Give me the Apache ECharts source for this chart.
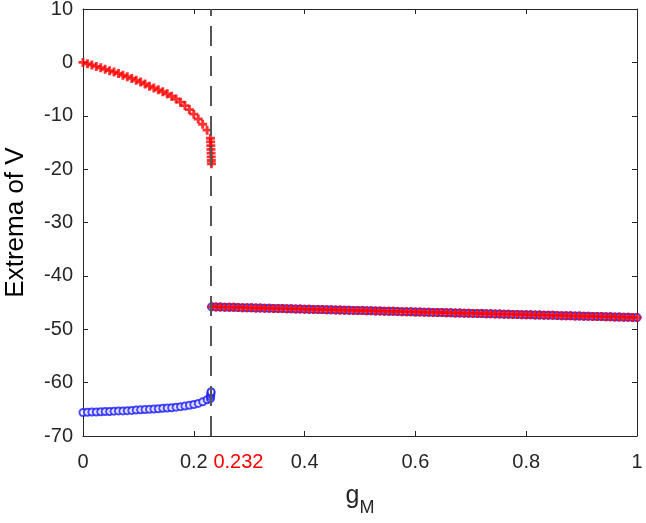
<!DOCTYPE html>
<html>
<head>
<meta charset="utf-8">
<script src="https://cdn.jsdelivr.net/npm/echarts@6/dist/echarts.min.js"></script>
<style>
  html, body { margin: 0; padding: 0; background: #fff; }
  #chart { width: 646px; height: 523px; }
</style>
</head>
<body>
<div id="chart"></div>
<script>
// g_M values and extrema of V
const bifurcation = 0.232

// maxima (red +) before the bifurcation
const maxLeft = [
  [0.000, 0.0], [0.008, -0.25], [0.016, -0.5], [0.024, -0.75], [0.032, -1.0],
  [0.040, -1.3], [0.048, -1.55], [0.056, -1.8], [0.064, -2.1], [0.072, -2.4],
  [0.080, -2.7], [0.088, -3.0], [0.096, -3.35], [0.104, -3.7], [0.112, -4.05],
  [0.120, -4.45], [0.128, -4.8], [0.136, -5.15], [0.144, -5.5], [0.152, -5.9],
  [0.160, -6.35], [0.168, -6.85], [0.176, -7.45], [0.184, -8.1], [0.192, -8.85],
  [0.200, -9.7], [0.208, -10.6], [0.216, -11.6], [0.224, -12.7],
  [0.2300, -14.2], [0.2304, -14.9], [0.2307, -15.6], [0.2310, -16.3],
  [0.2312, -17.0], [0.2314, -17.7], [0.2316, -18.4], [0.2318, -19.0]
]

// minima (blue o) before the bifurcation
const minLeft = [
  [0.000, -65.6], [0.008, -65.55], [0.016, -65.5], [0.024, -65.5], [0.032, -65.45],
  [0.040, -65.4], [0.048, -65.4], [0.056, -65.35], [0.064, -65.3], [0.072, -65.3],
  [0.080, -65.25], [0.088, -65.2], [0.096, -65.15], [0.104, -65.1], [0.112, -65.05],
  [0.120, -65.0], [0.128, -64.95], [0.136, -64.9], [0.144, -64.8], [0.152, -64.75],
  [0.160, -64.7], [0.168, -64.6], [0.176, -64.5], [0.184, -64.4], [0.192, -64.25],
  [0.200, -64.1], [0.208, -63.9], [0.216, -63.6], [0.224, -63.2],
  [0.2300, -63.0], [0.2304, -62.6], [0.2307, -62.2], [0.2310, -61.9], [0.2312, -61.7]
]

// after the bifurcation maxima and minima coincide
const gmRight = [
  0.232, 0.240, 0.248, 0.256, 0.264, 0.272, 0.280, 0.288, 0.296, 0.304,
  0.312, 0.320, 0.328, 0.336, 0.344, 0.352, 0.360, 0.368, 0.376, 0.384,
  0.392, 0.400, 0.408, 0.416, 0.424, 0.432, 0.440, 0.448, 0.456, 0.464,
  0.472, 0.480, 0.488, 0.496, 0.504, 0.512, 0.520, 0.528, 0.536, 0.544,
  0.552, 0.560, 0.568, 0.576, 0.584, 0.592, 0.600, 0.608, 0.616, 0.624,
  0.632, 0.640, 0.648, 0.656, 0.664, 0.672, 0.680, 0.688, 0.696, 0.704,
  0.712, 0.720, 0.728, 0.736, 0.744, 0.752, 0.760, 0.768, 0.776, 0.784,
  0.792, 0.800, 0.808, 0.816, 0.824, 0.832, 0.840, 0.848, 0.856, 0.864,
  0.872, 0.880, 0.888, 0.896, 0.904, 0.912, 0.920, 0.928, 0.936, 0.944,
  0.952, 0.960, 0.968, 0.976, 0.984, 0.992, 1.000
]
const vRight = [
  -45.80, -45.82, -45.84, -45.86, -45.88, -45.90, -45.92, -45.95, -45.97, -45.99,
  -46.01, -46.03, -46.05, -46.07, -46.09, -46.11, -46.13, -46.15, -46.17, -46.20,
  -46.22, -46.24, -46.26, -46.28, -46.30, -46.32, -46.34, -46.36, -46.38, -46.40,
  -46.42, -46.45, -46.47, -46.49, -46.51, -46.53, -46.55, -46.57, -46.59, -46.61,
  -46.63, -46.65, -46.67, -46.70, -46.72, -46.74, -46.76, -46.78, -46.80, -46.82,
  -46.84, -46.86, -46.88, -46.90, -46.92, -46.95, -46.97, -46.99, -47.01, -47.03,
  -47.05, -47.07, -47.09, -47.11, -47.13, -47.15, -47.17, -47.20, -47.22, -47.24,
  -47.26, -47.28, -47.30, -47.32, -47.34, -47.36, -47.38, -47.40, -47.42, -47.45,
  -47.47, -47.49, -47.51, -47.53, -47.55, -47.57, -47.59, -47.61, -47.63, -47.65,
  -47.67, -47.70, -47.72, -47.74, -47.76, -47.78, -47.80
]

const rightPts = gmRight.map((g, i) => [g, vRight[i]])

const axisColor = '#262626'
const font = 'Liberation Sans, Arial, sans-serif'
const plusSymbol = 'path://M2.7,0H5.3V2.7H8V5.3H5.3V8H2.7V5.3H0V2.7H2.7Z'

const baseX = {
  type: 'value', min: 0, max: 1, interval: 0.2,
  axisLine: { show: true, onZero: false, lineStyle: { color: axisColor, width: 1 } },
  axisTick: { show: true, inside: true, length: 5, lineStyle: { color: axisColor } },
  splitLine: { show: false }
}
const baseY = {
  type: 'value', min: -70, max: 10, interval: 10,
  axisLine: { show: true, onZero: false, lineStyle: { color: axisColor, width: 1 } },
  axisTick: { show: true, inside: true, length: 5, lineStyle: { color: axisColor } },
  splitLine: { show: false }
}

const option = {
  animation: false,
  backgroundColor: '#fff',
  grid: { left: 83, right: 9, top: 9, bottom: 87, containLabel: false, outerBoundsMode: 'none' },
  xAxis: [
    Object.assign({}, baseX, {
      position: 'bottom',
      axisLabel: { color: axisColor, fontSize: 20, fontFamily: font, margin: 16 },
      name: '{g|g}{s|M}',
      nameLocation: 'middle',
      nameGap: 48,
      nameTextStyle: {
        rich: {
          g: { fontSize: 25, fontFamily: font, color: axisColor, verticalAlign: 'bottom', padding: [0, 0, 8, 0] },
          s: { fontSize: 18, fontFamily: font, color: axisColor, verticalAlign: 'bottom' }
        }
      }
    }),
    Object.assign({}, baseX, { position: 'top', axisLabel: { show: false } })
  ],
  yAxis: [
    Object.assign({}, baseY, {
      position: 'left',
      axisLabel: { color: axisColor, fontSize: 20, fontFamily: font, margin: 10, padding: [8, 0, 0, 0] },
      name: 'Extrema of V',
      nameLocation: 'middle',
      nameGap: 54,
      nameTextStyle: { fontSize: 26, fontFamily: font, color: '#000' }
    }),
    Object.assign({}, baseY, { position: 'right', axisLabel: { show: false } })
  ],
  series: [
    {
      name: 'min', type: 'scatter', data: minLeft.concat(rightPts),
      symbol: 'emptyCircle', symbolSize: 7,
      itemStyle: { color: '#1a1aff', borderColor: '#1a1aff', borderWidth: 1.4 },
      z: 2
    },
    {
      name: 'max', type: 'scatter', data: maxLeft.concat(rightPts),
      symbol: plusSymbol, symbolSize: 9,
      itemStyle: { color: '#ff0000' },
      z: 3
    },
    {
      name: 'bifurcation', type: 'line', data: [], z: 5,
      markLine: {
        silent: true, symbol: 'none',
        lineStyle: { color: '#555', width: 2, type: [20, 10] },
        label: {
          show: true, position: 'start', distance: 16,
          formatter: '0.232', color: '#ff0000', fontSize: 20, fontFamily: font,
          padding: [0, 0, 0, 56]
        },
        data: [{ xAxis: bifurcation }]
      }
    }
  ]
}

const chart = echarts.init(document.getElementById('chart'))
chart.setOption(option)
</script>
</body>
</html>
